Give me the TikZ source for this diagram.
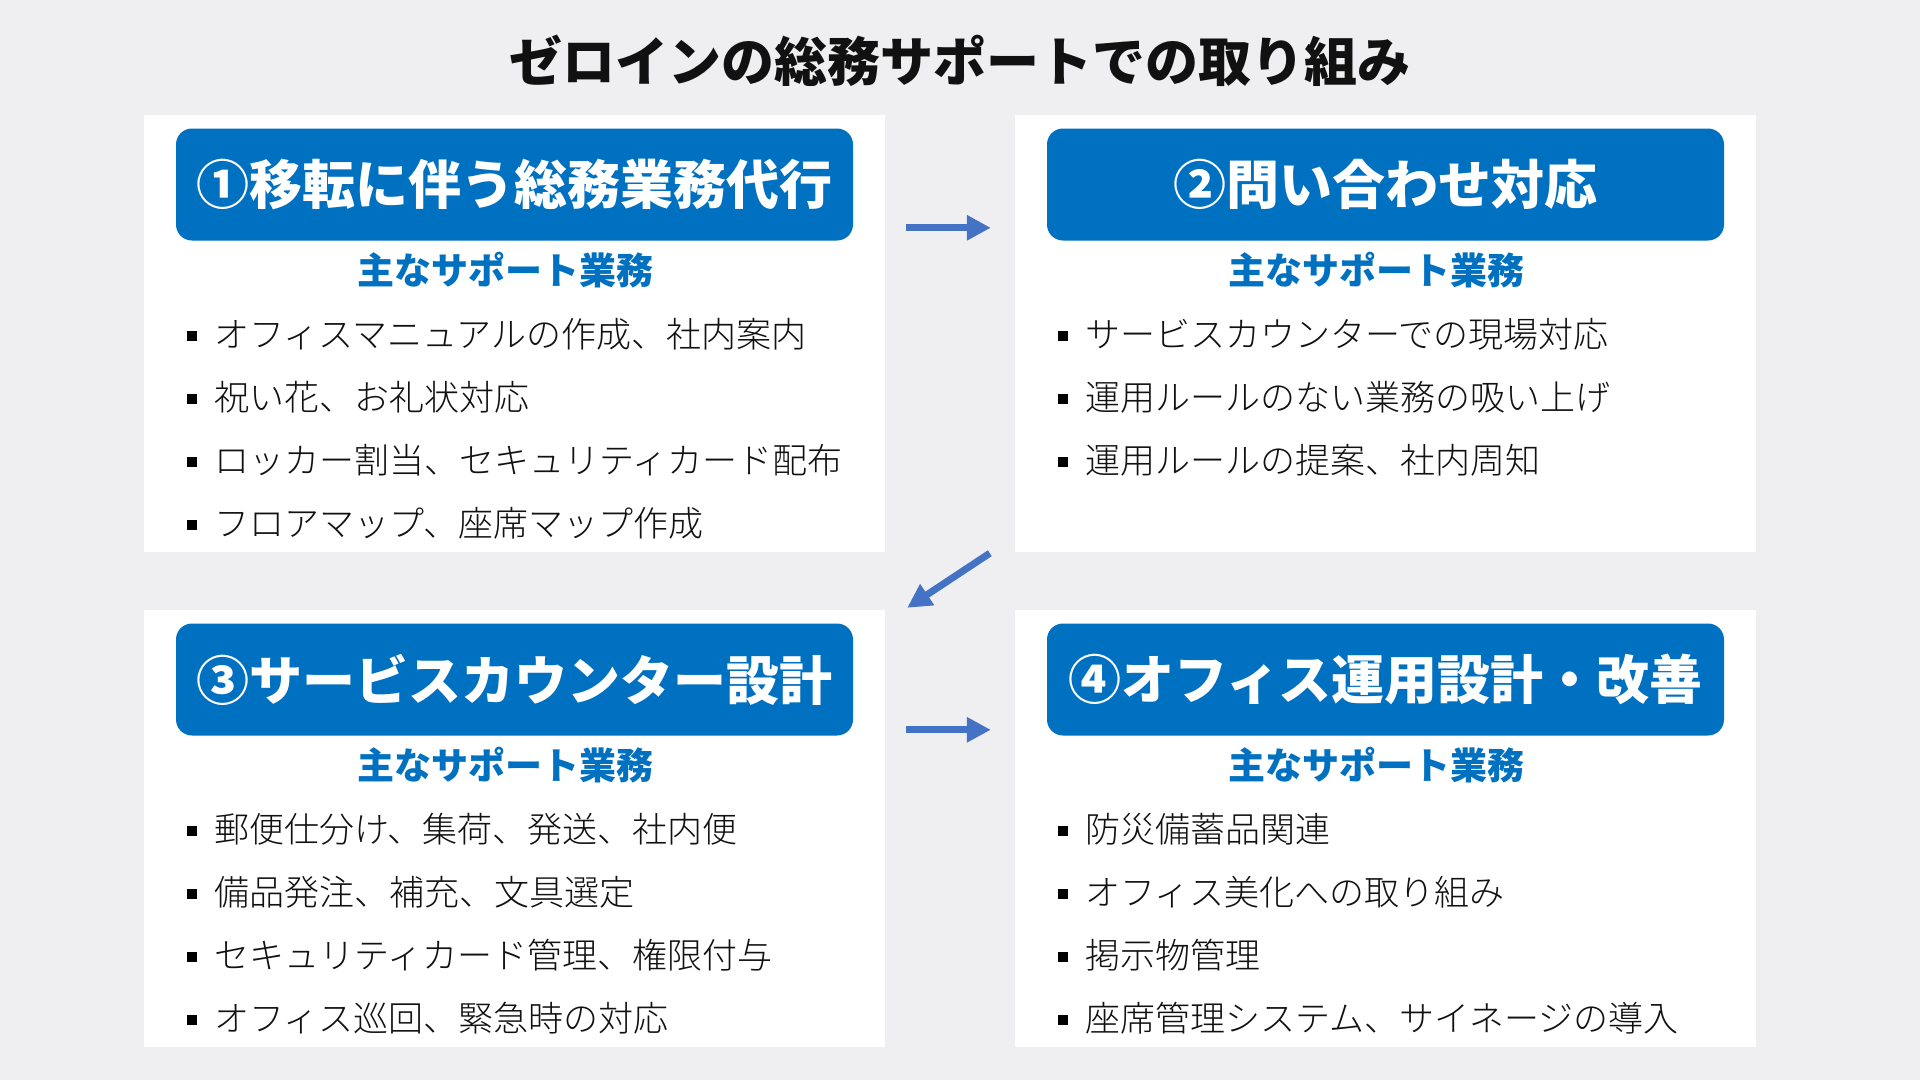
\documentclass[tikz,border=0pt]{standalone}
\usepackage{fontspec}
\setmainfont{Noto Sans CJK JP}
\newfontfamily\jplight{Noto Sans CJK JP Light}
\usetikzlibrary{positioning,arrows.meta,calc}
\definecolor{paper}{HTML}{EFEFF1}
\definecolor{hdBlue}{HTML}{0070C0}
\definecolor{arBlue}{HTML}{4472C4}
\definecolor{ink}{HTML}{111111}

\begin{document}
\begin{tikzpicture}[x=1pt, y=-1pt, text=ink,
    card/.style={fill=white, minimum width=741pt, minimum height=437pt, inner sep=0pt},
    head/.style={fill=hdBlue, rounded corners=16pt, minimum width=677pt, minimum height=112pt, inner sep=0pt,
                 text=white, font=\fontsize{53}{53}\selectfont\bfseries},
    subhead/.style={text=hdBlue, inner sep=0pt, font=\fontsize{37}{37}\selectfont\bfseries},
    item/.style={anchor=west, inner sep=0pt, font=\fontsize{35}{35}\selectfont\jplight},
    flow/.style={-{Triangle[length=24pt,width=24pt]}, line width=7pt, draw=arBlue}]

  % canvas (same size as the reference)
  \fill[paper] (0,0) rectangle (1920,1080);

  % ---------------- title
  \node[inner sep=0pt, font=\fontsize{53}{53}\selectfont\bfseries] (title) at (960,61) {ゼロインの総務サポートでの取り組み};

  % ---------------- four cards with header and subheading
  \foreach \name/\cx/\cy/\lab in {p1/514.5/333.5/{①移転に伴う総務業務代行}, p2/1385.5/333.5/{②問い合わせ対応},
                                  p3/514.5/828.5/{③サービスカウンター設計}, p4/1385.5/828.5/{④オフィス運用設計・改善}} {
    \node[card] (\name) at (\cx,\cy) {};
    \node[head] (\name h) at (\cx,\cy-149) {\lab};
    \node[subhead] (\name s) at (\cx-9,\cy-63) {主なサポート業務};
  }

  % ---------------- bullet lists
  \foreach \p/\lst in {p1/{オフィスマニュアルの作成、社内案内, 祝い花、お礼状対応, ロッカー割当、セキュリティカード配布, フロアマップ、座席マップ作成},
                       p2/{サービスカウンターでの現場対応, 運用ルールのない業務の吸い上げ, 運用ルールの提案、社内周知},
                       p3/{郵便仕分け、集荷、発送、社内便, 備品発注、補充、文具選定, セキュリティカード管理、権限付与, オフィス巡回、緊急時の対応},
                       p4/{防災備蓄品関連, オフィス美化への取り組み, 掲示物管理, 座席管理システム、サイネージの導入}} {
    \foreach \t [count=\i] in \lst {
      \node[item] (\p i\i) at ($(\p.center)+(-300.5,{(\i-1)*63+1})$) {\t};
      \fill[black] ([shift={(-27,-4)}]\p i\i.west) rectangle ++(10,10);
    }
  }

  % ---------------- flow arrows between the cards
  \draw[flow] ([shift={(21,113)}]p1.north east) -- ([shift={(-24,113)}]p2.north west);
  \draw[flow] ([shift={(-25,1)}]p2.south west) -- ([shift={(22,-2)}]p3.north east);
  \draw[flow] ([shift={(21,120)}]p3.north east) -- ([shift={(-24,120)}]p4.north west);
\end{tikzpicture}
\end{document}
